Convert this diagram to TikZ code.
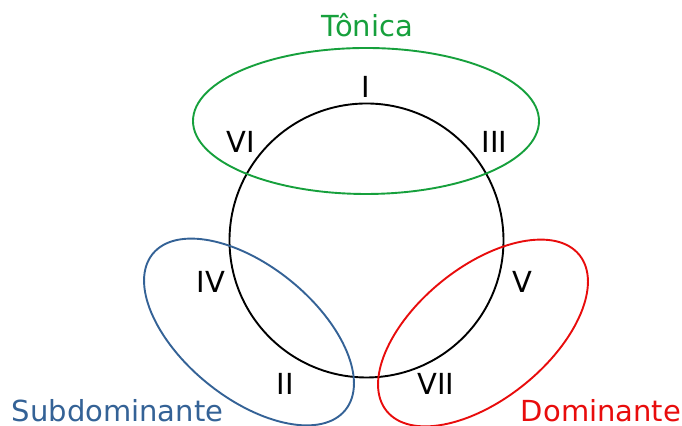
\documentclass[tikz,border=0pt]{standalone}
\usepackage{fontspec}
\setmainfont{DejaVu Sans}
\definecolor{tgreen}{RGB}{22,160,60}
\definecolor{tblue}{RGB}{52,98,150}
\definecolor{tred}{RGB}{232,12,12}
\tikzset{
  lbl/.style={anchor=base, inner sep=0pt, font=\fontsize{14.5}{17}\selectfont},
  ring/.style={line width=0.95pt}
}
\begin{document}
\begin{tikzpicture}[x=0.5pt,y=0.5pt]
\useasboundingbox (0,0) rectangle (682,426);
% circle of degrees
\draw[ring, black] (366.5,185.5) circle [radius=137];
% function ellipses
\draw[ring, tgreen] (366,305) ellipse [x radius=173, y radius=73];
\draw[ring, tblue, rotate around={-39:(249,94)}] (249,94) ellipse [x radius=124, y radius=66];
\draw[ring, tred, rotate around={39:(483,93)}] (483,93) ellipse [x radius=124, y radius=66];
% labels
\node[lbl, tgreen] (ton) at (367,389.3) {Tônica};
\node[lbl, tblue] (sub) at (117.5,4) {Subdominante};
\node[lbl, tred] (dom) at (601,4) {Dominante};
\node[lbl] (d1) at (366,328.7) {I};
\node[lbl] (d6) at (241,273) {VI};
\node[lbl] (d3) at (494.5,273) {III};
\node[lbl] (d4) at (211,133) {IV};
\node[lbl] (d5) at (522,133) {V};
\node[lbl] (d2) at (285.5,31) {II};
\node[lbl] (d7) at (436,31) {VII};
\end{tikzpicture}
\end{document}
